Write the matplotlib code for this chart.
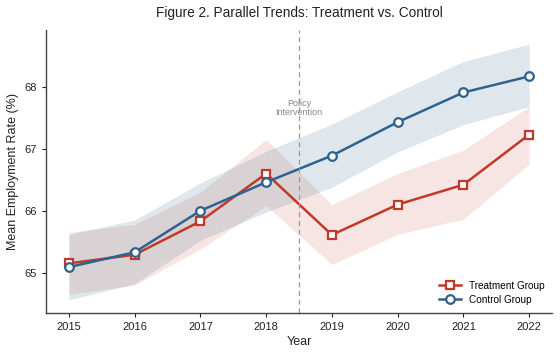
import matplotlib
matplotlib.use('Agg')
import matplotlib.pyplot as plt

plt.rcParams['font.family'] = ['Liberation Sans', 'DejaVu Sans']

# ── Data ──────────────────────────────────────────────────────────────────────
years = [2015, 2016, 2017, 2018, 2019, 2020, 2021, 2022]
treat_mean = [65.15, 65.29, 65.83, 66.60, 65.61, 66.10, 66.42, 67.23]
treat_lo   = [64.65, 64.80, 65.38, 66.08, 65.13, 65.62, 65.86, 66.75]
treat_hi   = [65.65, 65.78, 66.30, 67.15, 66.10, 66.60, 66.98, 67.68]
ctrl_mean  = [65.09, 65.33, 66.00, 66.46, 66.89, 67.43, 67.91, 68.17]
ctrl_lo    = [64.56, 64.82, 65.52, 65.98, 66.38, 66.95, 67.39, 67.68]
ctrl_hi    = [65.62, 65.85, 66.45, 66.96, 67.40, 67.92, 68.41, 68.69]
yticks = [65, 66, 67, 68]

RED  = "#c0392b"
BLUE = "#2c6391"

fig = plt.figure(figsize=(5.6, 3.56), dpi=100, facecolor='white')
ax = fig.add_axes([0.082, 0.121, 0.904, 0.795])

ax.fill_between(years, treat_lo, treat_hi, color=RED, alpha=0.13, lw=0)
ax.fill_between(years, ctrl_lo, ctrl_hi, color='#4a7590', alpha=0.17, lw=0)

ax.plot(years, treat_mean, color=RED, lw=1.8, marker='s', ms=6.2,
        mfc='white', mec=RED, mew=1.6, label='Treatment Group')
ax.plot(years, ctrl_mean, color=BLUE, lw=1.8, marker='o', ms=6.2,
        mfc='white', mec=BLUE, mew=1.6, label='Control Group')

# policy line
ax.axvline(2018.5, color='#999999', lw=0.9, ls=(0, (4, 3)))
ax.text(2018.5, 67.66, "Policy\nIntervention", ha='center', va='center',
        fontsize=6.5, color='#888888', linespacing=1.0)

ax.set_xlim(2014.65, 2022.35)
ax.set_ylim(64.35, 68.92)
ax.set_xticks(years)
ax.set_yticks(yticks)
ax.tick_params(labelsize=8, colors='#222222', length=3, width=0.8)
for s in ['top', 'right']:
    ax.spines[s].set_visible(False)
for s in ['left', 'bottom']:
    ax.spines[s].set_color('#444444')
    ax.spines[s].set_linewidth(1.0)

ax.set_xlabel("Year", fontsize=9, color='#222222', labelpad=3)
ax.set_ylabel("Mean Employment Rate (%)", fontsize=9, color='#222222', labelpad=4)
ax.set_title("Figure 2. Parallel Trends: Treatment vs. Control", fontsize=9.8,
             color='#222222', pad=9)

ax.legend(loc='lower right', fontsize=7.2, frameon=False, handlelength=2.2,
          borderaxespad=0.4, labelspacing=0.4)

plt.savefig("out.png", dpi=100, facecolor='white')
plt.close()
